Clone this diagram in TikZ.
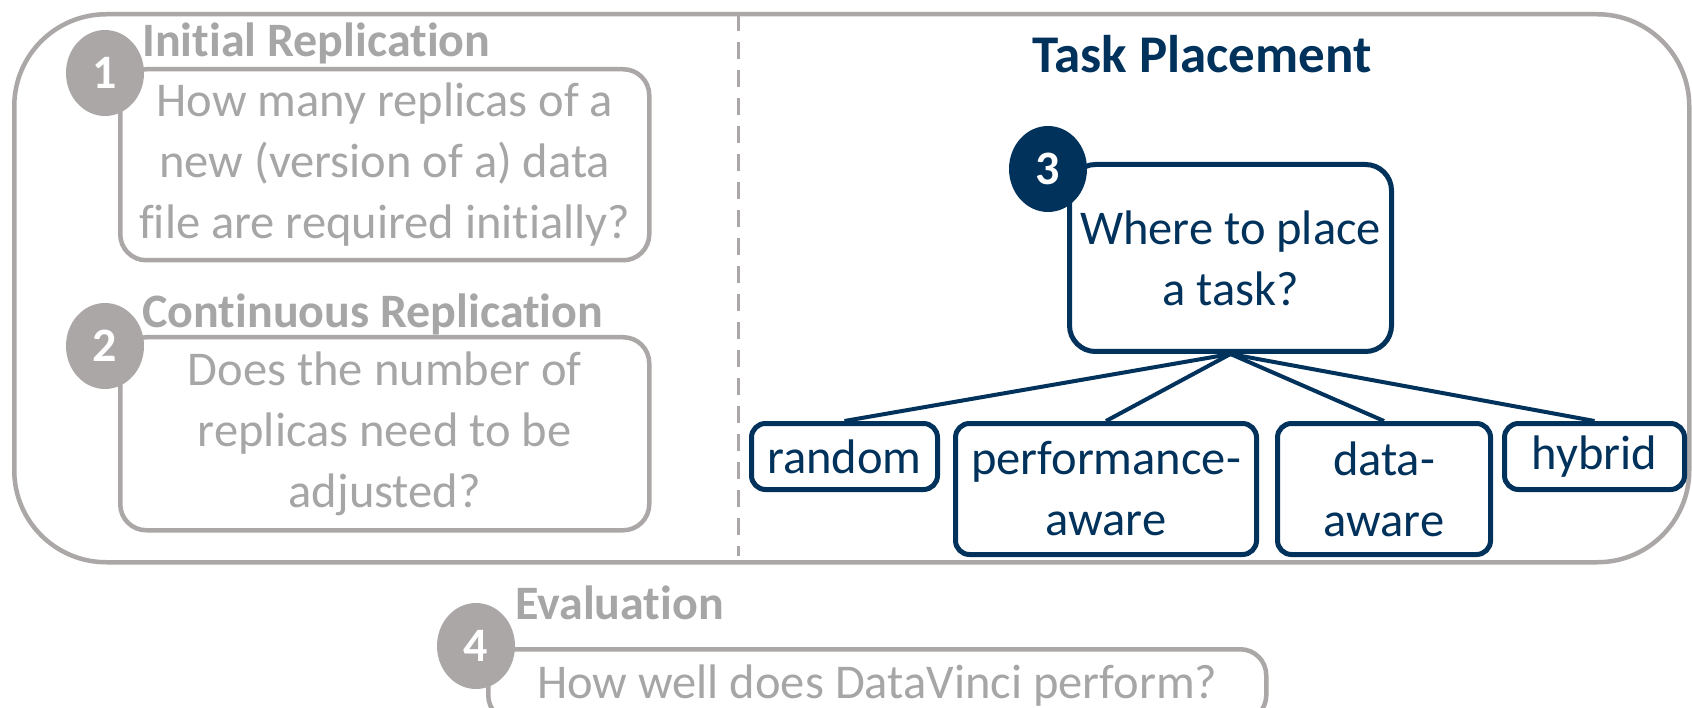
\documentclass[tikz,border=0pt]{standalone}
\usepackage{fontspec}
\setmainfont{Carlito}[Ligatures=NoCommon]
\usetikzlibrary{shapes.geometric}
\definecolor{greyline}{HTML}{ABA7A6}
\definecolor{greytext}{HTML}{A6A6A6}
\definecolor{navy}{HTML}{00325B}

\begin{document}
\begin{tikzpicture}[x=1pt,y=-1pt,
  body/.style={font=\fontsize{48.5}{61}\selectfont, align=center},
  greybox/.style={draw=greyline, line width=4.5pt, rounded corners=26pt, anchor=north west, inner sep=0pt, body, text=greytext},
  navybox/.style={draw=navy, line width=5pt, rounded corners=26pt, anchor=north west, inner sep=0pt, body, text=navy},
  leaf/.style={draw=navy, line width=5pt, rounded corners=14pt, anchor=north west, inner sep=0pt, body, text=navy},
  badge/.style={ellipse, minimum width=78pt, minimum height=86pt, inner sep=0pt, text=white, font=\fontsize{48}{48}\selectfont\bfseries},
  heading/.style={anchor=base west, inner sep=0pt, font=\fontsize{48}{48}\selectfont\bfseries, text=greytext},
  branch/.style={draw=navy, line width=4pt},
  divider/.style={draw=greyline, line width=3pt, dash pattern=on 17pt off 11pt},
]
% canvas
\fill[white] (0,0) rectangle (1692,708);
\useasboundingbox (0,0) rectangle (1692,708);

% outer frame around replication and placement
\node (frame) [draw=greyline, line width=4.5pt, rounded corners=92pt, anchor=north west,
  minimum width=1675pt, minimum height=548pt, inner sep=0pt] at (12,12) {};

% dashed divider
\coordinate (divtop) at (738,14);
\coordinate (divbot) at (738,556);
\draw[divider] (divtop) -- (divbot);

% 1: initial replication
\node[heading] (h1) at (142,57) {Initial Replication};
\node[greybox, minimum width=529pt, minimum height=191pt] (q1) at (118,67)
  {How many replicas of a\\new (version of a) data\\file are required initially?};
\node[badge, fill=greyline] (n1) at (105,73) {1};

% 2: continuous replication
\node[heading] (h2) at (142,328) {Continuous Replication};
\node[greybox, minimum width=529pt, minimum height=193pt] (q2) at (118,335)
  {Does the number of\\replicas need to be\\adjusted?};
\node[badge, fill=greyline] (n2) at (105,346) {2};

% 3: task placement
\node[anchor=base, inner sep=0pt, text=navy, font=\fontsize{53}{53}\selectfont\bfseries] (h3) at (1202,73) {Task Placement};
\node[navybox, minimum width=322pt, minimum height=187pt] (q3) at (1067,162)
  {Where to place\\a task?};
\node[badge, fill=navy] (n3) at (1048,169) {3};

\node[leaf, minimum width=186pt, minimum height=66pt] (random) at (749,421) {random};
\node[leaf, minimum width=301pt, minimum height=131pt] (perf) at (953,421) {performance-\\aware};
\node[leaf, minimum width=213pt, minimum height=131pt] (data) at (1275,421) {data-\\aware};
\node[leaf, minimum width=180pt, minimum height=66pt] (hybrid) at (1502,421) {hybrid};

\draw[branch] (q3.south) -- (random.north);
\draw[branch] (q3.south) -- (perf.north);
\draw[branch] (q3.south) -- (data.north);
\draw[branch] (q3.south) -- (hybrid.north);

% 4: evaluation
\node[heading] (h4) at (515,619) {Evaluation};
\node[greybox, minimum width=778pt, minimum height=72pt] (q4) at (486,647)
  {How well does DataVinci perform?};
\node[badge, fill=greyline] (n4) at (476,646) {4};
\end{tikzpicture}
\end{document}
